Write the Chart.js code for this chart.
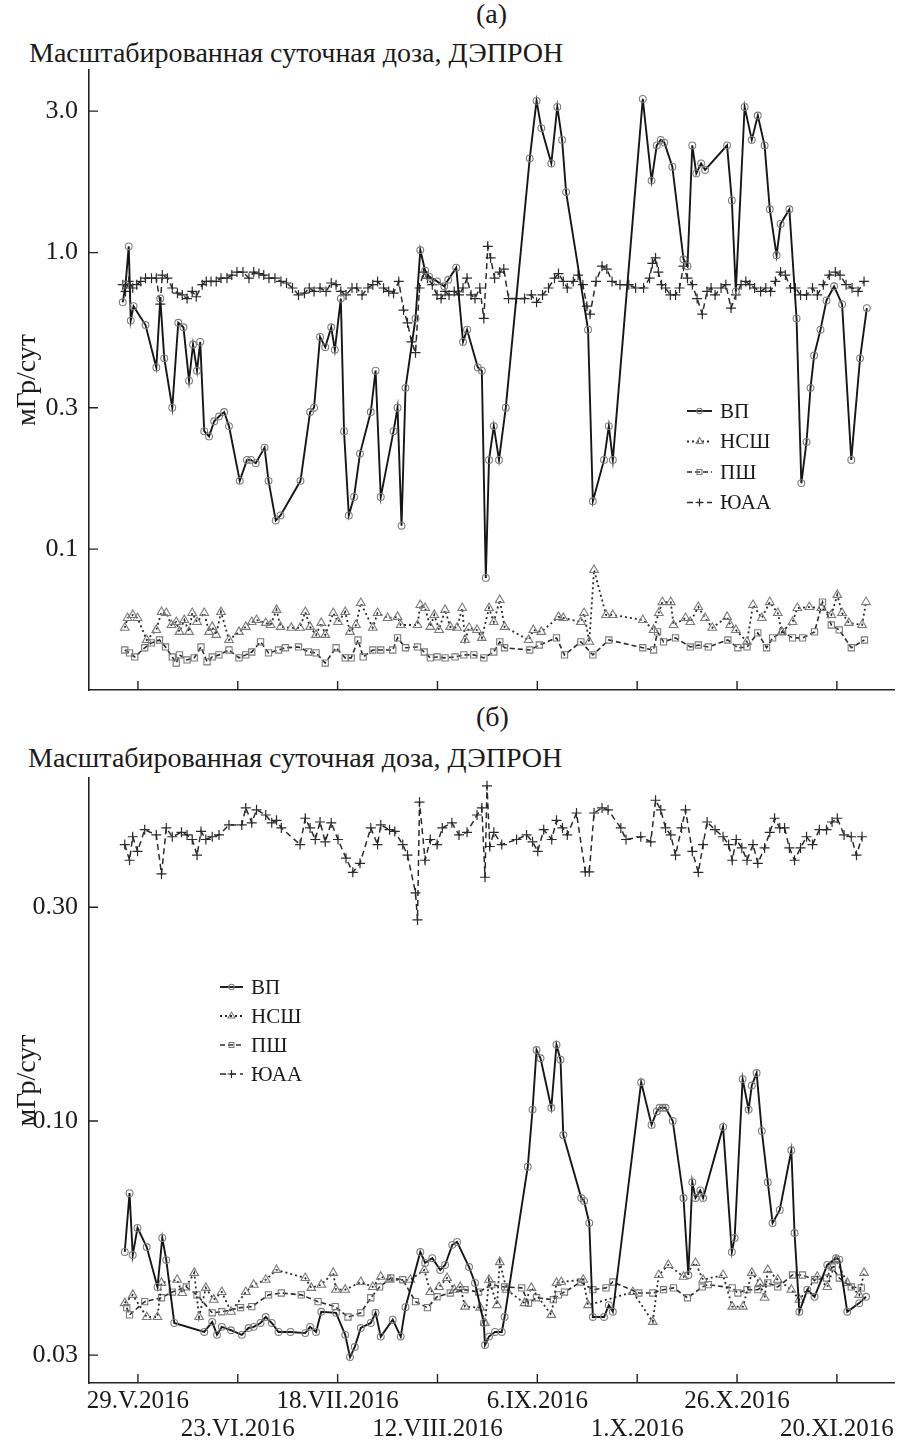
<!DOCTYPE html>
<html>
<head>
<meta charset="utf-8">
<script src="https://cdn.jsdelivr.net/npm/chart.js@4.4.1/dist/chart.umd.min.js"></script>
<style>
  body { margin: 0; background: #fff; width: 901px; height: 1446px; position: relative; overflow: hidden; font-family: "Liberation Serif", "DejaVu Serif", serif; color: #1a1a1a; }
  .txt { position: absolute; font-size: 28px; line-height: 28px; white-space: nowrap; }
  canvas { position: absolute; left: 0; }
</style>
</head>
<body>
<div class="txt" style="left:476px; top:0px;">(а)</div>
<div class="txt" style="left:29px; top:39px;">Масштабированная суточная доза, ДЭПРОН</div>
<div class="txt" style="left:476px; top:703px;">(б)</div>
<div class="txt" style="left:28px; top:744px;">Масштабированная суточная доза, ДЭПРОН</div>
<canvas id="chartA" width="901" height="705" style="top:0"></canvas>
<canvas id="chartB" width="901" height="741" style="top:705px"></canvas>
<script>
// days counted from 29.V.2016
const xTickDays = [0, 25, 50, 75, 100, 125, 150, 175];
const xTickLabels = ['29.V.2016', '23.VI.2016', '18.VII.2016', '12.VIII.2016', '6.IX.2016', '1.X.2016', '26.X.2016', '20.XI.2016'];
const seriesNames = ['ВП', 'НСШ', 'ПШ', 'ЮАА'];

const yTicksA = [0.1, 0.3, 1, 3];
const yLabelsA = ['0.1', '0.3', '1.0', '3.0'];
const yTicksB = [0.03, 0.1, 0.3];
const yLabelsB = ['0.03', '0.10', '0.30'];

// ---- panel (a)
const vpDaysA = [-3.8,-3.1,-2.3,-1.8,-1.1,1.9,4.6,5.6,6.6,8.6, 10.1,11.4,12.8,13.8,14.8,15.6,16.6,17.8,19.1,20.3,
  21.6,22.8,25.5,27.3,28.3,29.5,31.7,32.7,34.5,35.7, 40.7,43.1,44.1,45.6,46.9,48.4,49.3,50.8,51.6,52.8,
  54.1,55.6,58.3,59.5,60.8,64.0,65.0,66.0,67.0,69.5, 70.7,71.9,72.9,74.9,76.7,77.7,79.7,81.4,82.4,85.1,
  86.1,87.1,87.9,89.1,90.4,92.1,98.1,99.8,101.0,103.5, 105.0,106.2,107.2,112.7,113.9,116.7,117.9,118.9,126.4,128.6,
  129.9,130.9,131.8,133.8,136.6,137.6,138.8,139.8,141.0,142.0, 147.5,148.7,149.7,151.9,153.7,155.2,156.9,158.2,159.9,160.9,
  163.1,164.9,166.1,167.4,168.4,169.3,170.9,172.4,174.3,176.3, 178.6,180.8,182.5];
const vpA = [0.68,0.78,1.05,0.59,0.66,0.57,0.41,0.70,0.44,0.30, 0.58,0.56,0.37,0.49,0.40,0.50,0.25,0.24,0.27,0.28,
  0.29,0.26,0.17,0.20,0.20,0.195,0.22,0.17,0.125,0.13, 0.17,0.29,0.30,0.52,0.48,0.56,0.47,0.70,0.25,0.13,
  0.15,0.21,0.29,0.40,0.15,0.25,0.30,0.12,0.35,0.60, 1.02,0.87,0.83,0.80,0.77,0.81,0.89,0.50,0.55,0.41,
  0.40,0.08,0.20,0.26,0.20,0.30,2.08,3.25,2.63,2.0, 3.1,2.4,1.6,0.55,0.145,0.20,0.26,0.20,3.3,1.75,
  2.3,2.4,2.35,1.95,0.95,0.90,2.3,1.85,2.0,1.9, 2.3,1.5,0.74,3.1,2.4,2.9,2.3,1.4,0.98,1.25,
  1.4,0.60,0.167,0.23,0.35,0.45,0.55,0.69,0.77,0.67, 0.20,0.44,0.65];

const nsDaysA = [-3.3,-2.6,-1.3,-0.1,2.2,4.6,5.9,7.1,8.4,9.6, 10.4,11.6,12.8,13.6,14.8,16.6,17.8,18.6,19.6,20.8,
  22.8,25.3,27.0,28.5,29.7,32.0,33.2,34.7,35.7,38.4, 40.6,41.9,43.1,44.6,45.9,46.9,48.9,50.1,51.9,53.1,
  54.6,55.8,58.8,60.0,62.5,65.0,65.8,70.0,70.7,71.9, 73.2,74.2,75.4,76.9,78.2,79.9,81.2,81.9,82.9,84.9,
  86.1,87.9,89.1,90.6,91.8,97.8,99.0,101.0,105.3,106.5, 110.9,111.7,113.0,114.2,117.2,118.9,126.4,129.1,130.4,131.3,
  133.4,134.1,137.1,138.3,140.3,142.0,143.8,147.5,148.3,149.7, 152.5,154.0,156.2,158.2,160.2,161.2,163.9,165.1,168.1,171.1,
  173.6,175.1,176.3,178.0,181.3,182.3];
const nsA = [0.0543,0.0586,0.060,0.0586,0.0494,0.0534,0.0614,0.0609,0.0555,0.0568, 0.0526,0.0577,0.0526,0.0609,0.0568,0.0609,0.0526,0.0547,0.0514,0.0614,
  0.0494,0.0526,0.0547,0.0568,0.0577,0.0564,0.0555,0.0624,0.0547,0.0543, 0.0543,0.0614,0.0547,0.0514,0.0564,0.0514,0.0609,0.0568,0.0614,0.0526,
  0.0555,0.0658,0.0543,0.0609,0.0586,0.0591,0.0555,0.0555,0.0648,0.0633, 0.0547,0.060,0.0534,0.0624,0.0547,0.0543,0.0633,0.0494,0.0543,0.0534,
  0.0502,0.0633,0.0568,0.0674,0.0547,0.0494,0.0534,0.0526,0.0591,0.0586, 0.0568,0.0609,0.0487,0.0851,0.060,0.060,0.0577,0.0534,0.0609,0.0663,
  0.0663,0.0555,0.0586,0.0568,0.0638,0.0586,0.0543,0.0591,0.0555,0.0534, 0.0487,0.0648,0.0586,0.0663,0.0609,0.0526,0.0568,0.0633,0.0638,0.0633,
  0.060,0.0701,0.0609,0.0564,0.0555,0.0663];

const psDaysA = [-3.3,-2.1,-0.8,1.7,3.4,5.4,6.9,8.6,9.6,10.4, 12.3,14.1,15.8,17.3,18.6,20.3,22.8,25.3,27.0,28.5,
  30.7,32.7,35.2,36.9,40.2,42.7,44.6,46.9,49.6,51.9, 53.4,55.1,56.4,58.8,60.8,63.8,65.0,67.0,70.0,71.7,
  73.2,74.9,76.9,79.4,81.6,84.1,86.6,89.1,90.6,91.8, 98.1,100.5,104.8,106.8,110.9,113.9,117.9,126.4,129.1,130.1,
  131.6,134.6,138.3,140.3,142.8,147.7,150.2,152.5,155.2,157.4, 158.9,161.4,163.9,166.4,169.4,171.4,173.6,175.6,178.6,181.9];
const psA = [0.0457,0.0447,0.0433,0.0465,0.0483,0.0494,0.0468,0.0433,0.0413,0.0440, 0.0423,0.0430,0.0468,0.0417,0.0433,0.0440,0.0457,0.0430,0.0440,0.0450,
  0.0487,0.0447,0.0457,0.0465,0.0468,0.0450,0.0447,0.0413,0.0465,0.0430, 0.0430,0.0494,0.0433,0.0457,0.0457,0.0457,0.0502,0.0465,0.0468,0.0450,
  0.0430,0.0433,0.0430,0.0433,0.0440,0.0440,0.0430,0.0450,0.0487,0.0465, 0.0457,0.0475,0.0502,0.0440,0.0487,0.0440,0.0494,0.0465,0.0457,0.0526,
  0.0487,0.0502,0.0468,0.0475,0.0468,0.0494,0.0465,0.0468,0.0522,0.0465, 0.0502,0.0526,0.0502,0.0502,0.0526,0.0663,0.0555,0.0534,0.0465,0.0494];

const yuDaysA = [-3.8,-3.1,-2.3,-1.3,-0.3,0.7,1.9,3.4,4.6,5.6, 6.1,7.4,8.6,9.9,11.1,12.3,13.6,14.6,16.1,17.1,
  18.3,19.6,20.8,22.3,23.5,24.8,26.3,27.8,29.0,30.3, 31.5,32.8,34.3,35.8,37.2,38.7,40.2,41.7,42.9,44.1,
  45.6,47.1,48.4,49.6,50.8,52.1,53.6,54.8,56.1,57.6, 58.8,60.0,61.5,62.8,64.0,65.3,66.5,67.5,68.5,69.5,
  70.5,71.5,72.5,73.7,74.9,75.9,76.9,77.9,79.2,80.4, 81.4,82.4,83.4,84.4,85.6,86.6,87.6,88.3,89.3,90.6,
  91.6,92.8,94.8,96.8,98.5,99.8,101.3,102.8,104.3,105.3, 106.5,107.5,109.0,110.2,111.4,112.4,113.2,114.7,116.2,117.4,
  118.7,120.7,122.9,124.6,126.6,128.1,128.8,129.6,130.3,131.1, 132.1,133.3,134.6,135.6,136.6,137.6,138.8,140.0,141.3,142.5,
  143.5,144.5,146.0,147.2,148.5,149.7,151.0,152.2,153.2,154.4, 155.9,157.2,158.4,159.6,160.9,162.1,163.4,164.6,165.9,167.4,
  168.9,170.1,171.6,173.1,174.6,175.8,177.3,178.8,180.3,181.8];
const yuA = [0.78,0.74,0.80,0.76,0.78,0.80,0.82,0.82,0.82,0.67, 0.84,0.82,0.76,0.73,0.72,0.70,0.74,0.71,0.78,0.80,
  0.80,0.80,0.82,0.82,0.84,0.86,0.86,0.82,0.86,0.85, 0.84,0.82,0.82,0.80,0.79,0.76,0.72,0.73,0.76,0.74,
  0.76,0.74,0.79,0.78,0.74,0.72,0.76,0.76,0.72,0.76, 0.78,0.80,0.76,0.74,0.73,0.80,0.64,0.58,0.50,0.46,
  0.76,0.86,0.82,0.78,0.72,0.70,0.74,0.72,0.74,0.72, 0.76,0.82,0.72,0.70,0.76,0.60,1.05,0.96,0.82,0.86,
  0.88,0.70,0.70,0.70,0.72,0.68,0.72,0.76,0.82,0.85, 0.80,0.76,0.80,0.84,0.78,0.66,0.62,0.80,0.90,0.88,
  0.80,0.78,0.78,0.76,0.76,0.82,0.92,0.96,0.86,0.78, 0.76,0.72,0.72,0.76,0.90,0.82,0.78,0.70,0.62,0.74,
  0.76,0.72,0.76,0.78,0.65,0.72,0.78,0.80,0.78,0.76, 0.74,0.76,0.74,0.80,0.86,0.84,0.76,0.76,0.72,0.72,
  0.76,0.72,0.78,0.84,0.86,0.84,0.78,0.76,0.74,0.80];

// ---- panel (б)
const vpDaysB = [-3.3,-2.1,-1.3,-0.1,2.2,4.9,6.1,7.1,9.1,16.6, 18.6,19.8,21.0,23.3,26.0,27.7,29.0,30.7,32.0,33.5,
  35.2,38.2,41.9,43.1,44.6,45.9,49.6,51.9,53.1,54.3, 55.8,58.3,59.5,60.8,63.8,65.8,67.0,70.7,71.9,73.7,
  75.7,76.9,78.7,79.9,82.9,84.4,86.6,86.9,87.9,89.4, 91.1,91.8,97.6,98.8,99.8,100.8,103.5,104.8,105.8,106.5,
  111.0,111.7,113.0,113.9,116.7,117.9,118.9,126.0,128.6,129.9, 130.6,131.4,132.1,133.9,136.6,137.8,138.8,139.6,140.8,141.5,
  146.5,148.7,149.4,151.4,152.9,153.7,154.9,156.2,157.7,158.9, 160.7,163.6,164.4,165.6,167.6,169.4,172.6,174.8,175.6,177.6,
  180.6,182.3];
const vpB = [0.051,0.069,0.0502,0.0577,0.0523,0.0426,0.0548,0.0489,0.0354,0.0338, 0.0356,0.0333,0.0347,0.0341,0.0333,0.0345,0.0347,0.0354,0.0365,0.0354,
  0.0338,0.0338,0.0336,0.0347,0.0338,0.0375,0.0373,0.0333,0.0297,0.0313, 0.0345,0.0354,0.0373,0.033,0.036,0.033,0.0384,0.051,0.0482,0.0494,
  0.0465,0.0477,0.0529,0.0537,0.0472,0.0435,0.0354,0.0316,0.033,0.0338, 0.0338,0.0365,0.079,0.106,0.144,0.138,0.107,0.148,0.137,0.093,
  0.0673,0.0663,0.0592,0.0365,0.0365,0.0388,0.0375,0.122,0.098,0.105, 0.107,0.107,0.107,0.100,0.0673,0.0453,0.073,0.0673,0.070,0.0673,
  0.097,0.051,0.0548,0.124,0.106,0.120,0.128,0.095,0.073,0.0592, 0.0633,0.086,0.0562,0.0375,0.042,0.0405,0.0477,0.0494,0.049,0.0375,
  0.0392,0.0405];

const nsDaysB = [-3.3,-1.3,2.2,4.9,5.9,9.8,11.1,14.1,15.3,17.0, 19.0,21.0,23.3,27.0,29.0,32.0,34.7,41.9,43.4,45.9,
  48.9,49.6,51.9,55.8,58.8,60.8,63.0,68.2,71.7,73.2, 75.4,77.4,79.2,80.7,81.9,85.7,86.9,87.9,89.9,90.6,
  92.3,96.8,98.5,103.5,104.8,106.0,111.5,112.7,123.9,128.9, 130.4,132.8,136.6,139.6,141.5,146.5,148.8,151.5,153.7,155.7,
  156.9,157.7,160.2,163.6,165.6,170.1,172.6,174.8,177.6,180.6, 181.8];
const nsB = [0.0392,0.0409,0.0365,0.0365,0.0435,0.0442,0.0413,0.0458,0.0365,0.0424, 0.0399,0.0415,0.0375,0.0415,0.0431,0.0442,0.0465,0.0446,0.0424,0.0431,
  0.0458,0.0420,0.0420,0.0437,0.0426,0.0449,0.0442,0.0442,0.0465,0.0415, 0.0426,0.0446,0.0420,0.0426,0.0385,0.0383,0.0354,0.0442,0.0388,0.0484,
  0.0420,0.0392,0.0424,0.0369,0.0435,0.0437,0.0442,0.0388,0.0415,0.0356, 0.0453,0.0477,0.0449,0.0482,0.0442,0.0453,0.0385,0.0385,0.0458,0.0435,
  0.0403,0.0465,0.0442,0.0420,0.0399,0.0449,0.0426,0.0489,0.0435,0.0409, 0.0458];

const psDaysB = [-2.8,-2.1,1.7,5.9,8.6,12.1,14.8,18.6,21.0,25.7, 28.5,32.7,35.9,40.9,45.1,49.4,52.6,55.8,58.3,60.5,
  63.3,66.3,69.5,72.5,74.9,78.2,81.9,85.3,88.6,91.8, 96.1,97.8,99.8,104.0,105.3,106.8,110.9,113.9,117.2,118.9,
  125.4,128.9,131.6,134.1,137.6,141.3,142.8,148.8,150.2,152.5, 155.2,157.7,160.2,163.9,166.4,169.4,172.4,173.8,175.6,178.6,
  181.1];
const psB = [0.0383,0.0369,0.0395,0.0403,0.0415,0.0426,0.0409,0.0373,0.0375,0.0383, 0.0385,0.0409,0.0413,0.0409,0.0395,0.0385,0.0365,0.0373,0.0403,0.0426,
  0.0446,0.0442,0.0395,0.0383,0.0405,0.0413,0.0420,0.0415,0.0431,0.0426, 0.0424,0.0392,0.0403,0.0399,0.0409,0.0415,0.0437,0.0420,0.0424,0.0437,
  0.0413,0.0413,0.0420,0.0424,0.0403,0.0426,0.0431,0.0424,0.0413,0.0420, 0.0420,0.0435,0.0426,0.0453,0.0453,0.0442,0.0446,0.0472,0.0446,0.0426,
  0.0424];

const yuDaysB = [-3.3,-2.1,-1.3,-0.1,1.7,4.6,5.9,7.1,8.6,10.9, 12.3,13.6,14.8,15.8,17.0,18.6,20.3,22.8,26.0,27.0,
  28.5,29.7,32.0,33.5,34.7,35.9,40.6,41.9,43.1,44.4, 45.6,46.9,48.4,50.1,52.1,53.8,55.6,58.3,60.0,60.8,
  63.0,64.3,66.3,67.5,69.5,70.0,70.5,71.9,73.2,74.9, 76.2,78.6,80.4,82.4,84.9,86.1,86.9,87.4,88.1,89.1,
  91.1,94.8,97.3,98.8,100.1,101.6,103.6,104.8,106.3,107.5, 109.8,112.0,113.0,114.2,116.2,117.7,120.9,122.2,125.9,128.4,
  129.6,130.9,132.1,133.4,134.6,136.1,137.1,138.8,140.3,141.5, 142.5,144.5,146.5,147.9,148.8,149.8,151.2,152.5,154.0,155.2,
  156.9,158.2,159.4,160.7,161.9,163.1,164.4,165.9,167.4,168.9, 170.6,172.4,173.8,175.1,176.8,178.6,179.9,181.3];
const yuB = [0.414,0.382,0.431,0.40,0.447,0.435,0.356,0.451,0.431,0.441, 0.435,0.425,0.392,0.443,0.425,0.431,0.435,0.458,0.458,0.50,
  0.463,0.495,0.482,0.463,0.469,0.451,0.414,0.474,0.451,0.425, 0.465,0.420,0.463,0.425,0.386,0.359,0.376,0.451,0.414,0.458,
  0.447,0.443,0.414,0.392,0.323,0.281,0.515,0.382,0.425,0.414, 0.451,0.463,0.435,0.441,0.482,0.50,0.35,0.56,0.41,0.441,
  0.414,0.425,0.435,0.420,0.40,0.447,0.425,0.469,0.451,0.435, 0.487,0.36,0.36,0.487,0.50,0.495,0.451,0.425,0.431,0.420,
  0.52,0.495,0.451,0.435,0.392,0.451,0.495,0.40,0.359,0.414, 0.465,0.447,0.431,0.414,0.382,0.425,0.407,0.382,0.414,0.376,
  0.407,0.441,0.474,0.451,0.451,0.407,0.382,0.407,0.431,0.414, 0.447,0.447,0.465,0.474,0.435,0.431,0.392,0.431];

const pts = (days, vals) => days.map((d, i) => ({ x: d, y: vals[i] }));

const looks = [
  { borderColor: '#161616', borderWidth: 1.9, borderDash: [], pointStyle: 'circle', pointRadius: 3.4, pointBorderColor: '#7d7d7d', pointBorderWidth: 1.1 },
  { borderColor: '#2a2a2a', borderWidth: 1.8, borderDash: [2, 3], pointStyle: 'triangle', pointRadius: 5, pointBorderColor: '#7a7a7a', pointBorderWidth: 1.1 },
  { borderColor: '#2a2a2a', borderWidth: 1.6, borderDash: [5, 3], pointStyle: 'rect', pointRadius: 4.4, pointBorderColor: '#7a7a7a', pointBorderWidth: 1.1 },
  { borderColor: '#2a2a2a', borderWidth: 1.5, borderDash: [6, 4], pointStyle: 'cross', pointRadius: 5, pointBorderColor: '#2a2a2a', pointBorderWidth: 1.2 }
];

function sets(list) {
  return list.map((data, i) => Object.assign({ label: seriesNames[i], data, pointBackgroundColor: 'rgba(255,255,255,0)', tension: 0, fill: false }, looks[i]));
}

function marker(ctx, style, cx, cy, r) {
  ctx.beginPath();
  if (style === 'circle') ctx.arc(cx, cy, r, 0, Math.PI * 2);
  else if (style === 'triangle') { ctx.moveTo(cx, cy - r); ctx.lineTo(cx + r * 0.87, cy + r * 0.5); ctx.lineTo(cx - r * 0.87, cy + r * 0.5); ctx.closePath(); }
  else if (style === 'rect') ctx.rect(cx - r * 0.7, cy - r * 0.7, r * 1.4, r * 1.4);
  else { ctx.moveTo(cx - r, cy); ctx.lineTo(cx + r, cy); ctx.moveTo(cx, cy - r); ctx.lineTo(cx, cy + r); }
  ctx.stroke();
}

const fontStack = '"Liberation Serif", "DejaVu Serif", serif';

// ticks drawn inside the axes, as in the original
const inwardTicks = {
  id: 'inwardTicks',
  afterDraw(chart) {
    const { ctx, chartArea: a, scales: { x, y } } = chart;
    ctx.save();
    ctx.strokeStyle = '#222';
    ctx.lineWidth = 1.4;
    ctx.beginPath();
    x.ticks.forEach(t => { const p = x.getPixelForValue(t.value); ctx.moveTo(p, a.bottom); ctx.lineTo(p, a.bottom - 9); });
    y.ticks.forEach(t => { const p = y.getPixelForValue(t.value); ctx.moveTo(a.left, p); ctx.lineTo(a.left + 9, p); });
    ctx.stroke();
    ctx.restore();
  }
};

const boxLegend = {
  id: 'boxLegend',
  afterDraw(chart, args, o) {
    const ctx = chart.ctx;
    chart.data.datasets.forEach((ds, i) => {
      const y = o.y + i * o.step;
      ctx.save();
      ctx.strokeStyle = ds.borderColor;
      ctx.lineWidth = ds.borderWidth;
      ctx.setLineDash(ds.borderDash);
      ctx.beginPath(); ctx.moveTo(o.x, y); ctx.lineTo(o.x + o.len, y); ctx.stroke();
      ctx.setLineDash([]);
      ctx.strokeStyle = ds.pointBorderColor;
      ctx.lineWidth = ds.pointBorderWidth;
      marker(ctx, ds.pointStyle, o.x + o.len / 2, y, ds.pointRadius * 0.8);
      ctx.fillStyle = '#1a1a1a';
      ctx.font = '21px ' + fontStack;
      ctx.textBaseline = 'middle';
      ctx.fillText(ds.label, o.x + o.len + 8, y + 1);
      ctx.restore();
    });
  }
};

const serif = size => ({ family: fontStack, size });

function panel(id, datasets, top, bottomH, yMin, yMax, yTicks, yLabels, showDates, legend) {
  return new Chart(document.getElementById(id), {
    type: 'line',
    data: { datasets },
    options: {
      responsive: false,
      animation: false,
      layout: { padding: { top, left: 0, right: 0, bottom: 0 } },
      plugins: { legend: { display: false }, tooltip: { enabled: false }, boxLegend: legend },
      scales: {
        x: {
          type: 'linear', min: -12.25, max: 189.5,
          afterBuildTicks: s => { s.ticks = xTickDays.map(v => ({ value: v })); },
          afterFit: s => { s.height = bottomH; s.paddingLeft = 0; s.paddingRight = 0; },
          grid: { display: false, drawTicks: false },
          border: { display: true, color: '#222', width: 1.6 },
          ticks: {
            display: showDates, padding: 4, autoSkip: false, maxRotation: 0, minRotation: 0,
            font: Object.assign(serif(25), { lineHeight: 1.12 }), color: '#1a1a1a',
            callback: (v, i) => (i % 2 ? ['', xTickLabels[i]] : xTickLabels[i])
          }
        },
        y: {
          type: 'logarithmic', min: yMin, max: yMax,
          afterBuildTicks: s => { s.ticks = yTicks.map(v => ({ value: v })); },
          afterFit: s => { s.width = 89; s.paddingTop = 0; s.paddingBottom = 0; },
          grid: { display: false, drawTicks: false },
          border: { display: true, color: '#222', width: 1.6 },
          ticks: { padding: 11, font: serif(26), color: '#1a1a1a', callback: v => yLabels[yTicks.indexOf(v)] },
          title: { display: true, text: 'мГр/сут', font: serif(28), color: '#1a1a1a', padding: { top: 11, bottom: 0 } }
        }
      }
    },
    plugins: [inwardTicks, boxLegend]
  });
}

panel('chartA',
  sets([pts(vpDaysA, vpA), pts(nsDaysA, nsA), pts(psDaysA, psA), pts(yuDaysA, yuA)]),
  70, 15, 0.0335, 4.13, yTicksA, yLabelsA, false,
  { x: 687, y: 411, step: 30.5, len: 25 });

panel('chartB',
  sets([pts(vpDaysB, vpB), pts(nsDaysB, nsB), pts(psDaysB, psB), pts(yuDaysB, yuB)]),
  73, 63, 0.026, 0.583, yTicksB, yLabelsB, true,
  { x: 220, y: 282, step: 29, len: 23 });
</script>
</body>
</html>
